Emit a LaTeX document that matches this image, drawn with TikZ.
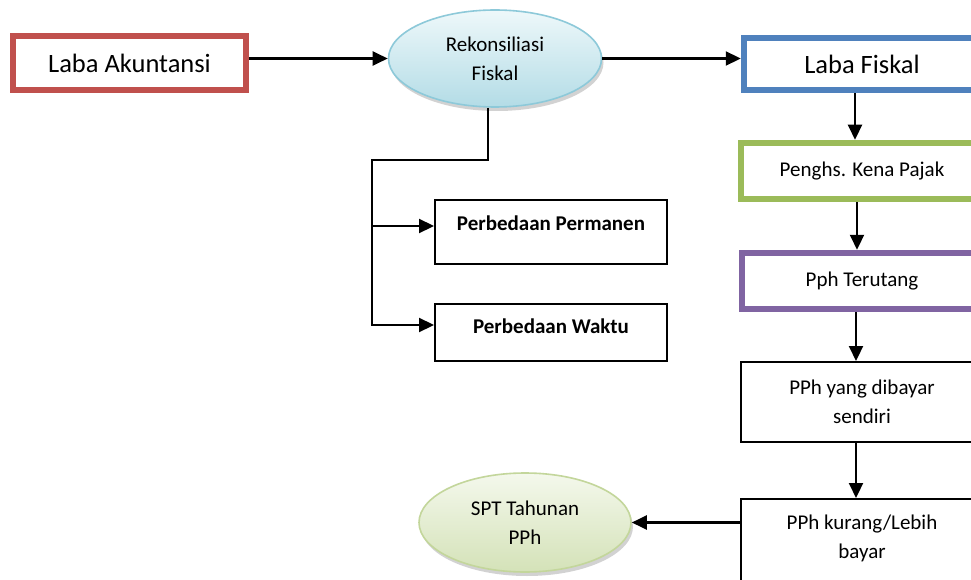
\documentclass[tikz,border=0pt]{standalone}
\usepackage{fontspec}
\setmainfont{Carlito}
\usepackage{tikz}
\usetikzlibrary{arrows.meta,shapes.geometric,shadows}

\definecolor{labared}{HTML}{C0504D}
\definecolor{lababiru}{HTML}{4F81BD}
\definecolor{labahijau}{HTML}{9BBB59}
\definecolor{labaungu}{HTML}{8064A2}
\definecolor{rekonline}{HTML}{8DC9D9}
\definecolor{rekontop}{HTML}{EEF8FA}
\definecolor{rekonbot}{HTML}{B3DCE6}
\definecolor{sptline}{HTML}{C3D69B}
\definecolor{spttop}{HTML}{F4F8EC}
\definecolor{sptbot}{HTML}{D4E2B8}

\newcommand{\labfont}{\fontsize{26.5}{32}\selectfont}
\newcommand{\boxfont}{\fontsize{21}{29}\selectfont}

\tikzset{
    arr/.style={line width=2.2pt, -{Triangle[length=15pt,width=14pt]}},
    colbox/.style={draw=#1, line width=6.5pt, fill=white, minimum height=54pt},
    plainbox/.style={draw, line width=2pt, fill=white, minimum width=242pt, align=center, font=\boxfont},
    ellnode/.style={ellipse, line width=1.6pt, align=center, font=\boxfont,
        drop shadow={shadow xshift=2pt, shadow yshift=-4pt, opacity=0.35, fill=gray}}
}

\begin{document}
\begin{tikzpicture}[x=1pt, y=-1pt]
    \clip (0,0) rectangle (971,580);
    \fill[white] (0,0) rectangle (971,580);

    \node [colbox=labared, minimum width=233pt, font=\labfont] (akun) at (129.5,63) {Laba Akuntansi};
    \node [ellnode, draw=rekonline, top color=rekontop, bottom color=rekonbot,
        minimum width=213pt, minimum height=97pt] (rekon) at (495,58.5) {Rekonsiliasi\\Fiskal};
    \node [colbox=lababiru, minimum width=236pt, minimum height=52pt, font=\labfont] (fiskal) at (862,64) {Laba Fiskal};

    \node [colbox=labahijau, minimum width=242pt, minimum height=56pt, font=\boxfont] (pkp) at (862,171) {Penghs. Kena Pajak};
    \node [colbox=labaungu, minimum width=240pt, minimum height=56pt, font=\boxfont] (terutang) at (862,281) {Pph Terutang};
    \node [plainbox, minimum height=80pt] (sendiri) at (862,402) {PPh yang dibayar\\sendiri};
    \node [plainbox, anchor=north, inner ysep=16pt, text depth=40pt] (kurang) at (862,498) {PPh kurang/Lebih\\bayar};

    \node [ellnode, draw=sptline, top color=spttop, bottom color=sptbot,
        minimum width=212pt, minimum height=99pt] (spt) at (525,522.5) {SPT Tahunan\\PPh};

    \node [draw, line width=2pt, minimum width=232pt, inner ysep=0pt, text height=30.5pt, text depth=33.5pt,
        font=\boxfont\bfseries] (perm) at (551,232) {Perbedaan Permanen};
    \node [draw, line width=2pt, minimum width=232pt, inner ysep=0pt, text height=29.5pt, text depth=27.5pt,
        font=\boxfont\bfseries] (waktu) at (551,332.5) {Perbedaan Waktu};

    \coordinate (split) at (372,160);

    \draw [arr] (akun.east |- rekon.west) -- (rekon.west);
    \draw [arr] (rekon.east) -- (rekon.east -| fiskal.west);

    \draw [arr] ([xshift=-7pt]rekon.south) |- (split) |- ([yshift=7.5pt]waktu.west);
    \draw [arr] (split) |- ([yshift=6pt]perm.west);

    \draw [arr] ([xshift=-7pt]fiskal.south) -- ([xshift=-7pt]pkp.north);
    \draw [arr] ([xshift=-5pt]pkp.south) -- ([xshift=-5pt]terutang.north);
    \draw [arr] ([xshift=-6pt]terutang.south) -- ([xshift=-6pt]sendiri.north);
    \draw [arr] ([xshift=-6pt]sendiri.south) -- ([xshift=-6pt]kurang.north);

    \draw [arr] (kurang.west |- spt.east) -- (spt.east);
\end{tikzpicture}
\end{document}
